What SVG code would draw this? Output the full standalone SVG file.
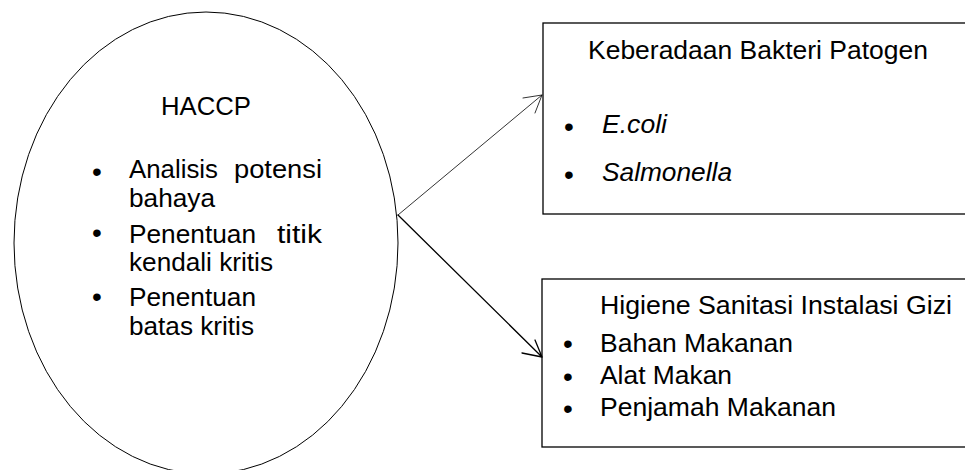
<svg xmlns="http://www.w3.org/2000/svg" width="965" height="470" viewBox="0 0 965 470">
<style>
.t{font-family:"Liberation Sans",Arial,sans-serif;font-size:26px;fill:#000}
.b{font-family:"Liberation Sans",Arial,sans-serif;font-size:26.5px;fill:#000}
.bu{font-family:"Liberation Sans",Arial,sans-serif;font-size:28px;fill:#000;text-anchor:middle}
.i{font-style:italic}
.shape{fill:#fff;stroke:#000}
.conn{fill:none;stroke:#000;stroke-linecap:round;stroke-linejoin:round}
</style>
<rect width="965" height="470" fill="#fff"/>
<g id="haccp">
<ellipse class="shape" cx="206" cy="243" rx="192" ry="231" stroke-width="1"/>
<text class="t" x="161" y="115" textLength="90" lengthAdjust="spacingAndGlyphs">HACCP</text>
<text class="bu" x="97" y="180.5">•</text>
<text class="t" x="129" y="178" textLength="89" lengthAdjust="spacingAndGlyphs">Analisis</text>
<text class="t" x="234" y="178" textLength="88" lengthAdjust="spacingAndGlyphs">potensi</text>
<text class="t" x="129" y="207" textLength="86" lengthAdjust="spacingAndGlyphs">bahaya</text>
<text class="bu" x="97" y="241.5">•</text>
<text class="t" x="129" y="243" textLength="127" lengthAdjust="spacingAndGlyphs">Penentuan</text>
<text class="t" x="277" y="243" textLength="45" lengthAdjust="spacingAndGlyphs">titik</text>
<text class="t" x="129" y="271" textLength="144" lengthAdjust="spacingAndGlyphs">kendali kritis</text>
<text class="bu" x="97" y="305.5">•</text>
<text class="t" x="129" y="306" textLength="127" lengthAdjust="spacingAndGlyphs">Penentuan</text>
<text class="t" x="129" y="335" textLength="125" lengthAdjust="spacingAndGlyphs">batas kritis</text>
</g>
<g id="bakteri">
<rect class="shape" x="543" y="23" width="430" height="191" stroke-width="1.3"/>
<text class="b" x="588" y="59" textLength="340" lengthAdjust="spacingAndGlyphs">Keberadaan Bakteri Patogen</text>
<text class="bu" x="569" y="135.5">•</text>
<text class="b i" x="602" y="133" textLength="65" lengthAdjust="spacingAndGlyphs">E.coli</text>
<text class="bu" x="569" y="183.5">•</text>
<text class="b i" x="602" y="181" textLength="130" lengthAdjust="spacingAndGlyphs">Salmonella</text>
</g>
<g id="higiene">
<rect class="shape" x="542" y="279" width="430" height="168" stroke-width="1.3"/>
<text class="b" x="600" y="314" textLength="352" lengthAdjust="spacingAndGlyphs">Higiene Sanitasi Instalasi Gizi</text>
<text class="bu" x="568" y="352.5">•</text>
<text class="b" x="600" y="352" textLength="193" lengthAdjust="spacingAndGlyphs">Bahan Makanan</text>
<text class="bu" x="568" y="385.5">•</text>
<text class="b" x="600" y="384" textLength="132" lengthAdjust="spacingAndGlyphs">Alat Makan</text>
<text class="bu" x="568" y="417.5">•</text>
<text class="b" x="600" y="416" textLength="236" lengthAdjust="spacingAndGlyphs">Penjamah Makanan</text>
</g>
<g id="connectors">
<path class="conn" d="M398 215 L542 95 M523 98 L542 95 L535 113" stroke="#333" stroke-width="0.8"/>
<path class="conn" d="M398 215 L542 357 M522 353 L542 357 L535 340" stroke-width="1.3"/>
</g>
</svg>
